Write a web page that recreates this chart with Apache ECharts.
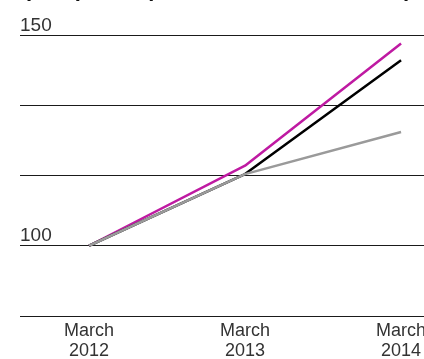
<!DOCTYPE html>
<html>
<head>
<meta charset="utf-8">
<style>
  html, body { margin: 0; padding: 0; background: #fff; overflow: hidden; }
  #chart { width: 424px; height: 359px; }
</style>
<script src="https://cdn.jsdelivr.net/npm/echarts@6/dist/echarts.min.js"></script>
</head>
<body>
<div id="chart"></div>
<script>
// Years on the x axis (each point is March of that year)
const years = [2012, 2013, 2014];
// Index values, March 2012 = 100
const seriesMagenta = [100, 119.0, 148.0];
const seriesBlack = [100, 117.0, 144.0];
const seriesGrey = [100, 117.0, 127.0];
// Labelled y ticks
const yTickLabels = [100, 150];

const chart = echarts.init(document.getElementById('chart'), null, { renderer: 'canvas' });

const step = 50 / 3;

function pairs(vals) {
  return vals.map((v, i) => [years[i], v]);
}

chart.setOption({
  animation: false,
  backgroundColor: '#ffffff',
  title: {
    text: 'Export prices (index, March 2012 = 100)',
    left: -6,
    top: -26,
    textStyle: {
      fontFamily: 'Liberation Sans',
      fontWeight: 'bold',
      fontSize: 22,
      color: '#111'
    }
  },
  grid: { left: 20, right: 0, top: 35, bottom: 43, containLabel: false, outerBoundsMode: 'none' },
  xAxis: {
    type: 'value',
    min: 2011.558,
    max: 2014.147,
    axisLine: { show: false },
    axisTick: { show: false },
    splitLine: { show: false },
    axisLabel: {
      customValues: years,
      formatter: v => 'March\n' + v,
      fontFamily: 'Liberation Sans',
      fontSize: 18,
      lineHeight: 20,
      color: '#333',
      margin: 5,
      align: 'center',
      hideOverlap: false
    }
  },
  yAxis: {
    type: 'value',
    min: 5 * step,
    max: 150,
    interval: step,
    axisLine: { show: false },
    axisTick: { show: false },
    splitLine: { show: true, lineStyle: { color: '#1a1a1a', width: 1.2 } },
    axisLabel: {
      inside: true,
      margin: 0,
      verticalAlign: 'bottom',
      padding: [0, 0, 0, 0],
      fontFamily: 'Liberation Sans',
      fontSize: 19,
      color: '#333',
      formatter: v => {
        const r = Math.round(v);
        return (Math.abs(v - r) < 1e-6 && yTickLabels.includes(r)) ? String(r) : '';
      }
    }
  },
  series: [
    {
      type: 'line', data: pairs(seriesMagenta), symbol: 'none',
      lineStyle: { color: '#bf1aa2', width: 2.5 }, z: 2
    },
    {
      type: 'line', data: pairs(seriesBlack), symbol: 'none',
      lineStyle: { color: '#000000', width: 2.5 }, z: 3
    },
    {
      type: 'line', data: pairs(seriesGrey), symbol: 'none',
      lineStyle: { color: '#9a9a9a', width: 2.5 }, z: 4
    }
  ]
});
</script>
</body>
</html>
